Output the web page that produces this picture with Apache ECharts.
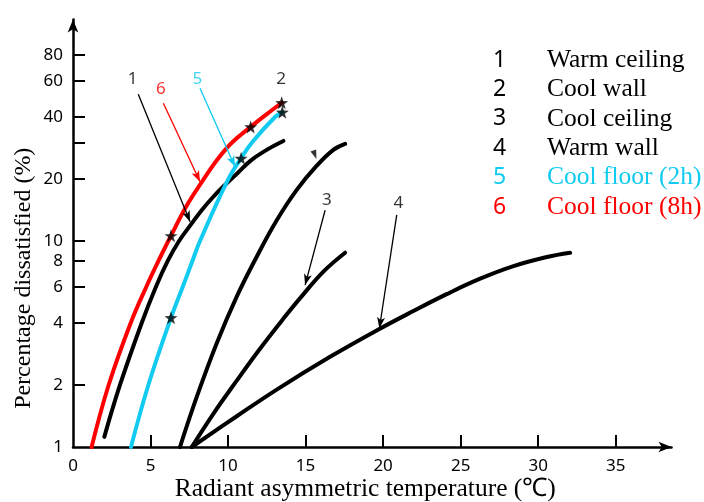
<!DOCTYPE html>
<html>
<head>
<meta charset="utf-8">
<script src="https://cdn.jsdelivr.net/npm/echarts@6/dist/echarts.min.js"></script>
<style>
  html, body { margin: 0; padding: 0; background: #fff; }
  #chart { width: 704px; height: 502px; }
</style>
</head>
<body>
<div id="chart"></div>
<script>
// Percentage of people dissatisfied vs. radiant asymmetric temperature,
// one curve per radiant surface type (y plotted on a base-10 log scale).

const seriesNames = ['Warm ceiling', 'Cool wall', 'Cool ceiling', 'Warm wall', 'Cool floor (2h)', 'Cool floor (8h)'];

// 1 Warm ceiling
const xWarmCeiling  = [2.02, 3.03, 4.43, 5.35, 6.11, 6.84, 7.6, 8.3, 9.05, 9.8, 10.65, 11.5, 12.6, 13.57];
const pdWarmCeiling = [1.12, 2.0, 4.0, 6.0, 8.0, 10.0, 12.0, 14.1, 16.4, 18.7, 21.5, 24.7, 28.0, 30.6];

// 2 Cool wall
const xCoolWall  = [6.9, 7.98, 9.27, 10.56, 11.85, 13.14, 14.43, 15.72, 16.79, 17.55];
const pdCoolWall = [1.0, 1.75, 3.19, 5.37, 8.39, 12.6, 17.7, 23.2, 27.7, 29.6];

// 3 Cool ceiling
const xCoolCeiling  = [7.66, 9.05, 10.56, 12.06, 13.57, 14.65, 16.15, 17.55];
const pdCoolCeiling = [1.0, 1.45, 2.1, 3.0, 4.2, 5.28, 7.1, 8.77];

// 4 Warm wall
const xWarmWall  = [7.66, 10.56, 13.14, 16.58, 19.7, 21.95, 24.1, 26.26, 28.41, 30.56, 32.06];
const pdWarmWall = [1.0, 1.41, 1.9, 2.74, 3.72, 4.57, 5.52, 6.56, 7.55, 8.36, 8.77];

// 5 Cool floor (2h)
const xCoolFloor2h  = [3.74, 4.86, 6.32, 7.08, 7.7, 8.19, 10.02, 10.84, 11.53, 13.03, 13.5];
const pdCoolFloor2h = [1.0, 2.0, 4.24, 6.0, 8.0, 10.0, 20.0, 25.2, 30.0, 40.0, 42.2];

// 6 Cool floor (8h)
const xCoolFloor8h  = [1.2, 2.3, 3.72, 4.73, 5.51, 6.32, 7.3, 8.3, 9.3, 10.24, 11.46, 12.5, 13.46];
const pdCoolFloor8h = [1.0, 2.0, 4.0, 6.0, 8.0, 10.6, 14.7, 19.3, 24.8, 30.0, 35.8, 41.3, 46.9];

// Measured points marked with stars
const xStars  = [6.32, 11.46, 13.46, 6.32, 10.84, 13.5];
const pdStars = [10.6, 35.8, 46.9, 4.24, 25.2, 42.2];

// Curve number callouts and their leader arrows
const calloutText = ['1', '6', '5', '2', '3', '4'];
const calloutX    = [3.85, 5.66, 8.02, 13.42, 16.37, 20.99];
const calloutPd   = [61.1, 54.5, 61.1, 61.1, 15.8, 15.2];
const leaderFromX  = [4.21, 5.83, 8.19, 16.26, 20.88];
const leaderFromPd = [51.5, 46.6, 55.1, 14.1, 13.4];
const leaderToX    = [7.55, 8.19, 10.45, 14.97, 19.76];
const leaderToPd   = [12.4, 19.4, 22.9, 6.11, 3.77];
const wedgeX = [15.6];
const wedgePd = [26.2];

// Axis ticks
const xTickLabels = [0, 5, 10, 15, 20, 25, 30, 35];
const yTickLabels = [1, 2, 4, 6, 8, 10, 20, 40, 60, 80];
const yTickMarks  = [2, 4, 6, 8, 10, 20, 30, 40, 60, 80];

const BLACK = '#000000';
const CYAN = '#12cbf0';
const RED = '#ff0000';
const seriesColors = [BLACK, BLACK, BLACK, BLACK, CYAN, RED];
const calloutColors = [BLACK, RED, CYAN, BLACK, BLACK, BLACK];
const leaderColors = [BLACK, RED, CYAN, BLACK, BLACK];

const lg = v => Math.log10(v);
const pairs = (xs, ys) => xs.map((x, i) => [x, lg(ys[i])]);

const curveData = [
  pairs(xWarmCeiling, pdWarmCeiling),
  pairs(xCoolWall, pdCoolWall),
  pairs(xCoolCeiling, pdCoolCeiling),
  pairs(xWarmWall, pdWarmWall),
  pairs(xCoolFloor2h, pdCoolFloor2h),
  pairs(xCoolFloor8h, pdCoolFloor8h)
];

const STAR = 'path://M0,-10 L2.35,-3.24 L9.51,-3.09 L3.8,1.24 L5.88,8.09 L0,4 L-5.88,8.09 L-3.8,1.24 L-9.51,-3.09 L-2.35,-3.24 Z';

const curveSeries = seriesNames.map((name, i) => ({
  name: name,
  type: 'line',
  data: curveData[i],
  smooth: 0.4,
  showSymbol: false,
  symbol: 'none',
  color: seriesColors[i],
  lineStyle: { color: seriesColors[i], width: 4, cap: 'round', join: 'round' },
  z: i >= 4 ? 4 : 3
}));

const option = {
  animation: false,
  backgroundColor: '#ffffff',
  grid: { left: 73, right: 32.5, top: 19.5, bottom: 55, containLabel: false, outerBoundsMode: 'none' },
  xAxis: {
    type: 'value',
    min: 0,
    max: 38.6,
    name: 'Radiant asymmetric temperature (\u2103)',
    nameLocation: 'middle',
    nameGap: 29,
    nameMoveOverlap: false,
    nameTextStyle: { fontFamily: 'Liberation Serif', fontSize: 25.5, color: BLACK, padding: [0, 14, 0, 0] },
    axisLine: { show: true, lineStyle: { color: BLACK, width: 2.5 }, symbol: ['none', 'arrow'], symbolSize: [8, 13] },
    axisTick: { show: true, inside: true, length: 12, lineStyle: { color: BLACK, width: 2 }, customValues: xTickLabels.filter(v => v > 0) },
    axisLabel: { customValues: xTickLabels, color: BLACK, fontFamily: 'Noto Sans', fontSize: 17, margin: 11 },
    splitLine: { show: false }
  },
  yAxis: {
    type: 'value',
    min: 0,
    max: 2.0752,
    name: 'Percentage dissatisfied (%)',
    nameLocation: 'middle',
    nameGap: 37,
    nameMoveOverlap: false,
    nameTextStyle: { fontFamily: 'Liberation Serif', fontSize: 24, color: BLACK, padding: [0, 90, 0, 0] },
    axisLine: { show: true, lineStyle: { color: BLACK, width: 2.5 }, symbol: ['none', 'arrow'], symbolSize: [8, 13] },
    axisTick: { show: true, inside: true, length: 12, lineStyle: { color: BLACK, width: 2 }, customValues: yTickMarks.map(lg) },
    axisLabel: {
      customValues: yTickLabels.map(lg),
      formatter: v => String(Math.round(Math.pow(10, v))),
      color: BLACK, fontFamily: 'Noto Sans', fontSize: 17, margin: 10
    },
    splitLine: { show: false }
  },
  legend: {
    orient: 'vertical',
    left: 483,
    top: 42,
    icon: 'none',
    itemWidth: 0,
    itemHeight: 0,
    itemGap: 3.4,
    selectedMode: false,
    data: seriesNames.map((n, i) => ({ name: n, icon: 'none', textStyle: { color: seriesColors[i] } })),
    formatter: name => '{n|' + (seriesNames.indexOf(name) + 1) + '}{t|' + name + '}',
    textStyle: {
      rich: {
        n: { fontFamily: 'Noto Sans', fontSize: 23, width: 54, lineHeight: 25 },
        t: { fontFamily: 'Liberation Serif', fontSize: 25.5, lineHeight: 25 }
      }
    }
  },
  series: curveSeries.concat([
    {
      name: 'stars',
      type: 'scatter',
      data: pairs(xStars, pdStars),
      symbol: STAR,
      symbolSize: 13,
      itemStyle: { color: BLACK },
      z: 6,
      silent: true
    },
    {
      name: 'wedge',
      type: 'scatter',
      data: pairs(wedgeX, wedgePd),
      symbol: 'triangle',
      symbolSize: [6, 9],
      symbolRotate: 200,
      itemStyle: { color: BLACK },
      z: 6,
      silent: true
    },
    {
      name: 'callouts',
      type: 'scatter',
      symbolSize: 0,
      silent: true,
      z: 7,
      data: calloutText.map((t, i) => ({
        value: [calloutX[i], lg(calloutPd[i])],
        label: {
          show: true,
          position: 'inside',
          formatter: t,
          color: calloutColors[i],
          fontFamily: 'Noto Sans',
          fontSize: 17
        }
      })),
      markLine: {
        silent: true,
        animation: false,
        symbol: ['none', 'arrow'],
        symbolSize: [6, 11],
        label: { show: false },
        lineStyle: { type: 'solid', width: 1.3 },
        data: leaderFromX.map((x, i) => [
          { coord: [x, lg(leaderFromPd[i])], lineStyle: { color: leaderColors[i], type: 'solid', width: 1.3 } },
          { coord: [leaderToX[i], lg(leaderToPd[i])] }
        ])
      }
    }
  ])
};

const chart = echarts.init(document.getElementById('chart'), null, { renderer: 'canvas' });
chart.setOption(option);
</script>
</body>
</html>
